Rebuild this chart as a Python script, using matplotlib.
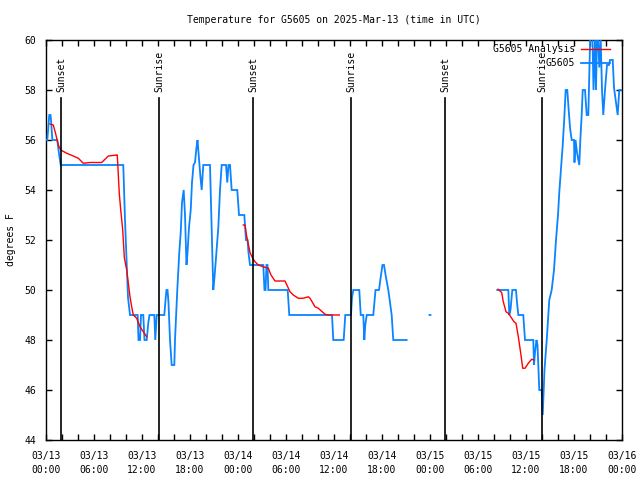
import numpy as np
import pandas as pd
import matplotlib
matplotlib.use("Agg")
import matplotlib.pyplot as plt
import matplotlib.dates as mdates
from matplotlib.lines import Line2D

title = "Temperature for G5605 on 2025-Mar-13 (time in UTC)"
start = pd.Timestamp("2025-03-13 00:00")
end = pd.Timestamp("2025-03-16 00:00")
nan = np.nan

# hours since 03/13 00:00 UTC, temperature (F); NaN = gap
obs_hours = [0.0, 0.16, 0.41, 0.56, 0.63, 0.79, 1.41, 1.6, 1.84, 9.66, 9.875, 10.125, 10.25, 10.5,
             11.46, 11.56, 11.75, 11.875, 12.16, 12.31, 12.59, 12.79, 12.94, 13.54, 13.66, 13.84,
             14.79, 14.94, 15.06, 15.19, 15.31, 15.5, 15.71, 16.04, 16.125, 16.41, 16.66, 16.84,
             17.0, 17.21, 17.375, 17.56, 17.69, 17.875, 18.09, 18.25, 18.44, 18.625, 18.81, 18.94,
             19.06, 19.19, 19.31, 19.46, 19.66, 20.5, 20.75, 20.91, 21.06, 21.25, 21.54, 21.75,
             21.96, 22.5, 22.66, 22.81, 23.0, 23.21, 23.91, 24.125, 24.79, 25.0, 25.19, 25.31,
             25.5, 27.16, 27.31, 27.44, 27.56, 27.69, 27.79, 30.21, 30.41, 35.75, 35.91, 37.21,
             37.41, 38.125, 38.25, 38.41, 39.16, 39.34, 39.66, 39.79, 39.91, 40.09, 40.91, 41.19,
             41.375, 41.625, 41.875, 42.06, 42.25, 42.5, 42.79, 43.0, 43.21, 43.41, 45.08,
             nan, 47.94, 48.06, nan,
             56.41, 57.79, 57.91, 58.06, 58.29, 58.75, 58.875, 59.04, 59.66, 59.875, 60.91, 61.0,
             61.125, 61.31, 61.44, 61.54, 61.66, 61.96, 62.09, 62.19, 62.31, 62.59, 62.91, 63.21,
             63.5, 63.75, 64.0, 64.16, 64.34, 64.59, 64.79, 64.96, 65.16, 65.29, 65.5, 65.71,
             66.0, 66.06, 66.19, 66.375, 66.66, 66.79, 66.96, 67.09, 67.375, 67.59, 67.79, 67.94,
             68.09, 68.25, 68.44, 68.625, 68.75, 68.94, 69.16, 69.34, 69.5, 69.66, 69.875, 70.125,
             70.375, 70.5, 70.84, 71.0, 71.34, 71.46, 71.66, 71.94]
obs_temps = [56, 56, 57, 57, 56.8, 56, 56, 55.5, 55, 55, 52.8, 50.8, 49.7, 49,
             49, 48, 48, 49, 49, 48, 48, 48.7, 49, 49, 48, 49,
             49, 49.6, 50, 50, 49.5, 48, 47, 47, 48, 50, 51.5, 52.3,
             53.5, 54, 53, 51, 51.5, 52.5, 53.2, 54.3, 55, 55.1, 55.7, 56,
             55.5, 55, 54.5, 54, 55, 55, 52, 50, 50.5, 51.3, 52.5, 54,
             55, 55, 54.3, 55, 55, 54, 54, 53, 53, 52, 52, 51.5,
             51, 51, 50, 50, 51, 51, 50, 50, 49, 49, 48, 48,
             49, 49, 49.7, 50, 50, 49, 49, 48, 48.6, 49, 49, 50,
             50, 50, 50.6, 51, 51, 50.5, 50, 49.5, 49, 48, 48,
             nan, 49, 49, nan,
             50, 50, 49, 49.2, 50, 50, 49.5, 49, 49, 48, 48, 47,
             47.5, 48, 47.8, 47, 46, 46, 45, 45.8, 46.8, 48, 49.6, 50,
             50.8, 52, 53, 53.9, 54.7, 55.8, 56.9, 58, 58, 57.4, 56.5, 56,
             56, 55.1, 56, 55.5, 55, 56, 57, 58, 58, 57, 57, 59,
             61, 61, 58, 60, 58, 61, 58.9, 60, 58, 57, 58, 59,
             59, 59.2, 59.2, 58.1, 57.3, 57, 58, 58]

ana_hours = [0.5, 0.91, 1.19, 1.54, 1.84, 2.59, 3.41, 4.04, 4.66, 5.5, 6.96, 7.79, 8.84, 8.91,
             9.16, 9.34, 9.59, 9.79, 10.09, 10.29, 10.5, 10.71, 10.91, 11.34, 11.75, 12.16, 12.59,
             nan,
             24.66, 24.875, 25.06, 25.25, 25.5, 25.84, 26.125, 26.54, 27.16, 27.79, 28.125, 28.625,
             29.875, 30.5, 30.91, 31.54, 32.16, 32.79, 33.0, 33.625, 34.04, 34.875, 35.29, 36.66,
             nan,
             56.5, 56.96, 57.16, 57.5, 57.79, 58.09, 58.5, 58.75, 59.04, 59.34, 59.59, 59.875,
             60.29, 60.71, 61.0]
ana_temps = [56.64, 56.6, 56.27, 55.8, 55.6, 55.47, 55.36, 55.27, 55.07, 55.1, 55.1, 55.36, 55.4, 55.4,
             53.87, 53.2, 52.4, 51.3, 50.8, 50.27, 49.73, 49.33, 49.0, 48.87, 48.53, 48.33, 48.13,
             nan,
             52.6, 52.6, 52.2, 51.9, 51.5, 51.27, 51.13, 51.0, 50.93, 50.87, 50.6, 50.36,
             50.36, 49.93, 49.8, 49.67, 49.67, 49.73, 49.67, 49.33, 49.27, 49.03, 49.0, 49.0,
             nan,
             50.03, 49.9, 49.53, 49.13, 49.07, 48.93, 48.73, 48.67, 48.13, 47.47, 46.87, 46.87,
             47.07, 47.23, 47.2]

event_hours = [1.92, 14.12, 25.92, 38.12, 49.92, 62.04]
event_labels = ["Sunset", "Sunrise", "Sunset", "Sunrise", "Sunset", "Sunrise"]

series_labels = ["G5605 Analysis", "G5605"]
y_ticks = [44, 46, 48, 50, 52, 54, 56, 58, 60]

def to_time(hours):
    return [start + pd.Timedelta(hours=h) if not np.isnan(h) else pd.NaT for h in hours]

plt.rcParams['font.family'] = ['DejaVu Sans Mono', 'DejaVu Sans']
plt.rcParams['font.size'] = 7

fig = plt.figure(figsize=(6.4, 4.8), dpi=100)
ax = fig.add_axes([46/640, 40/480, 576/640, 400/480])

blue = '#0a84ff'
red = '#ff0000'

ot = pd.to_datetime(pd.Series(to_time(obs_hours)))
at = pd.to_datetime(pd.Series(to_time(ana_hours)))
ax.plot(ot, obs_temps, color=blue, lw=1.3, zorder=3, solid_joinstyle='miter')
ax.plot(at, ana_temps, color=red, lw=1.0, zorder=4)

for h, lab in zip(event_hours, event_labels):
    t = start + pd.Timedelta(hours=h)
    ax.plot([t, t], [44, 57.67], color='black', lw=1.2, zorder=5)
    ax.text(t, 57.9, lab, rotation=90, ha='center', va='bottom', fontsize=7, zorder=6)

ax.set_xlim(start, end)
ax.set_ylim(44, 60)
ax.set_yticks(y_ticks)
ax.xaxis.set_major_locator(mdates.HourLocator(byhour=[0, 6, 12, 18]))
ax.xaxis.set_major_formatter(mdates.DateFormatter('%m/%d\n%H:%M'))
ax.xaxis.set_minor_locator(mdates.HourLocator(interval=2))
ax.tick_params(axis='both', which='both', direction='in', top=True, right=True,
               length=4, width=1, labelsize=7, pad=7)
ax.tick_params(axis='x', which='major', pad=8)
for lbl in ax.get_xticklabels():
    lbl.set_linespacing(1.5)
for s in ax.spines.values():
    s.set_linewidth(1.0)

# key (gnuplot style, right-aligned text)
for i, (lab, col, lw) in enumerate(zip(series_labels, [red, blue], [1.0, 1.3])):
    yk = 1 - (9.3 + 13.4 * i) / 400
    ax.add_line(Line2D([(581 - 46) / 576, (610 - 46) / 576], [yk, yk], transform=ax.transAxes,
                       color=col, lw=lw, zorder=7))
    ax.text((575 - 46) / 576, yk, lab, transform=ax.transAxes, ha='right', va='center',
            fontsize=7, zorder=7)

fig.text(334/640, 1 - 20/480, title, ha='center', va='center', fontsize=7)
fig.text(11/640, 0.5, "degrees F", rotation=90, ha='center', va='center', fontsize=7)

fig.savefig("out.png", dpi=100)
